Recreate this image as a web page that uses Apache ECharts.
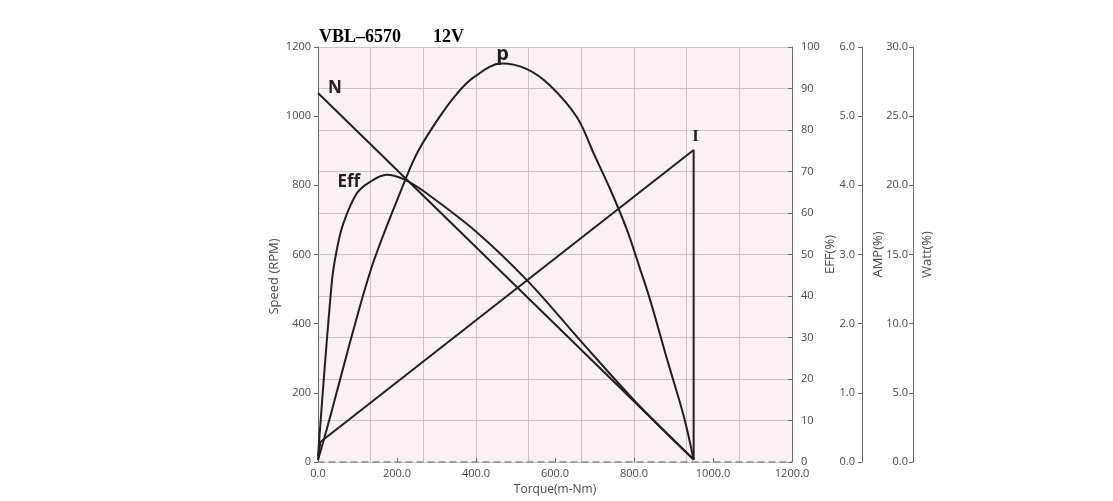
<!DOCTYPE html>
<html>
<head>
<meta charset="utf-8">
<script src="https://cdn.jsdelivr.net/npm/echarts@6/dist/echarts.min.js"></script>
<style>
  html, body { margin: 0; padding: 0; background: #ffffff; }
  #chart { width: 1113px; height: 501px; }
</style>
</head>
<body>
<div id="chart"></div>
<script>
// ---- data ----
const titleModel = 'VBL\u20136570';
const titleVoltage = '12V';

const torqueTicks = [0, 200, 400, 600, 800, 1000, 1200];

// Speed N (RPM) vs torque (m-Nm)
const speedPoints = [[0, 1067], [951, 7]];

// Efficiency (%) vs torque
const effPoints = [
  [0, 1.3], [34.7, 43.1], [47.4, 51.1], [64.2, 57.5], [98, 64.7],
  [131.8, 67.5], [174, 69.2], [220.5, 68], [266.8, 65.3], [400.4, 55.5],
  [533, 43.4], [666.5, 29], [799, 15.0], [883.7, 6.8], [951, 0.6]
];

// Current I (A) vs torque
const currentPoints = [[0, 0.03], [6, 0.29], [951, 4.51], [951, 0.04]];

// Output power P (W) vs torque
const powerPoints = [
  [0, 0.15], [22, 2.35], [47, 5.0], [94, 10.0], [142, 14.6], [221, 20.4],
  [254, 22.5], [309, 25.0], [351, 26.6], [394, 27.8], [465, 28.8],
  [529, 28.4], [588, 27.2], [656, 24.9], [698, 22.3], [740, 19.7],
  [782, 16.8], [816, 13.9], [841, 11.7], [884, 7.4], [926, 3.3], [951, 0.15]
];

// ---- styles ----
const ink = '#231f20';
const axisGray = '#6b6b6b';
const labelGray = '#4a4a4a';
const gridColor = '#cdc2c4';
const sansFont = '"Open Sans", "Noto Sans", sans-serif';
const serifFont = '"Liberation Serif", "DejaVu Serif", serif';

function peakOf(points) {
  let best = points[0];
  points.forEach(p => { if (p[1] > best[1]) best = p; });
  return best;
}

function curveLabel(text, coord, offset, font, size) {
  return {
    symbol: 'circle',
    symbolSize: 1,
    itemStyle: { color: 'rgba(0,0,0,0)' },
    silent: true,
    data: [{ coord: coord }],
    label: {
      show: true,
      position: 'inside',
      formatter: text,
      offset: offset,
      color: ink,
      fontFamily: font,
      fontWeight: 'bold',
      fontSize: size
    }
  };
}

const chart = echarts.init(document.getElementById('chart'), null, { renderer: 'canvas' });

const lineSeries = (name, yIdx, data, smooth) => ({
  name: name,
  type: 'line',
  xAxisIndex: 0,
  yAxisIndex: yIdx,
  data: data,
  symbol: 'none',
  smooth: smooth,
  lineStyle: { color: ink, width: 2 },
  z: 5
});

const nameStyle = { color: labelGray, fontFamily: sansFont, fontSize: 13 };

const rightAxisBase = {
  type: 'value',
  position: 'right',
  axisLine: { show: true, onZero: false, lineStyle: { color: axisGray, width: 1 } },
  axisTick: { show: true, inside: true, length: 4, lineStyle: { color: axisGray } },
  splitLine: { show: false },
  nameLocation: 'middle',
  nameRotate: 90,
  nameTextStyle: nameStyle
};

const option = {
  animation: false,
  backgroundColor: '#ffffff',
  title: [
    {
      text: titleModel, left: 314, top: 23,
      textStyle: { fontFamily: serifFont, fontWeight: 'bold', fontSize: 18, color: '#000' }
    },
    {
      text: titleVoltage, left: 428, top: 23,
      textStyle: { fontFamily: serifFont, fontWeight: 'bold', fontSize: 18, color: '#000' }
    }
  ],
  grid: {
    left: 318, right: 321, top: 47, bottom: 39,
    show: true, backgroundColor: '#fbf1f1', borderWidth: 0
  },
  xAxis: [
    {
      type: 'value',
      min: torqueTicks[0],
      max: torqueTicks[torqueTicks.length - 1],
      interval: torqueTicks[1] - torqueTicks[0],
      name: 'Torque(m-Nm)',
      nameLocation: 'middle',
      nameGap: 22,
      nameTextStyle: { color: labelGray, fontFamily: sansFont, fontSize: 12 },
      axisLine: { show: true, onZero: false, lineStyle: { color: '#8a8a8a', width: 1.5, type: [6, 5] } },
      axisTick: { show: true, inside: true, length: 4, lineStyle: { color: axisGray } },
      axisLabel: {
        color: labelGray, fontFamily: sansFont, fontSize: 11, margin: 6,
        formatter: v => v.toFixed(1)
      },
      splitLine: { show: false }
    },
    {
      type: 'value', min: 0, max: 9, interval: 1,
      position: 'top',
      axisLine: { show: false, onZero: false }, axisTick: { show: false }, axisLabel: { show: false },
      splitLine: { show: true, lineStyle: { color: gridColor, width: 1 } }
    }
  ],
  yAxis: [
    {
      type: 'value', position: 'left',
      min: 0, max: 1200, interval: 200,
      name: 'Speed (RPM)',
      nameLocation: 'middle', nameRotate: 90, nameGap: 37,
      nameTextStyle: Object.assign({}, nameStyle, { padding: [0, 44, 0, 0] }),
      axisLine: { show: true, onZero: false, lineStyle: { color: axisGray, width: 1 } },
      axisTick: { show: true, length: 4, lineStyle: { color: axisGray } },
      axisLabel: {
        color: labelGray, fontFamily: sansFont, fontSize: 11, margin: 7,
        formatter: v => String(v)
      },
      splitLine: { show: false }
    },
    Object.assign({}, rightAxisBase, {
      min: 0, max: 100, interval: 10, offset: 0,
      name: 'EFF(%)', nameGap: 32,
      axisLabel: { color: labelGray, fontFamily: sansFont, fontSize: 11, margin: 9 },
      splitLine: { show: true, lineStyle: { color: gridColor, width: 1 } }
    }),
    Object.assign({}, rightAxisBase, {
      min: 0, max: 6, interval: 1, offset: 70,
      name: 'AMP(%)', nameGap: 10,
      axisLabel: {
        inside: true, color: labelGray, fontFamily: sansFont, fontSize: 11, margin: 7,
        formatter: v => v.toFixed(1)
      }
    }),
    Object.assign({}, rightAxisBase, {
      min: 0, max: 30, interval: 5, offset: 121,
      name: 'Watt(%)', nameGap: 8,
      axisLabel: {
        inside: true, color: labelGray, fontFamily: sansFont, fontSize: 11, margin: 5,
        formatter: v => v.toFixed(1)
      }
    })
  ],
  series: [
    Object.assign(lineSeries('N', 0, speedPoints, false), {
      markPoint: curveLabel('N', speedPoints[0], [17, -5], sansFont, 17)
    }),
    Object.assign(lineSeries('Eff', 1, effPoints, 0.35), {
      markPoint: curveLabel('Eff', peakOf(effPoints), [-38, 7], sansFont, 17)
    }),
    Object.assign(lineSeries('I', 2, currentPoints, false), {
      markPoint: curveLabel('I', peakOf(currentPoints), [2, -13], serifFont, 17)
    }),
    Object.assign(lineSeries('P', 3, powerPoints, 0.35), {
      markPoint: curveLabel('p', peakOf(powerPoints), [1, -9], sansFont, 20)
    })
  ]
};

chart.setOption(option);
</script>
</body>
</html>
